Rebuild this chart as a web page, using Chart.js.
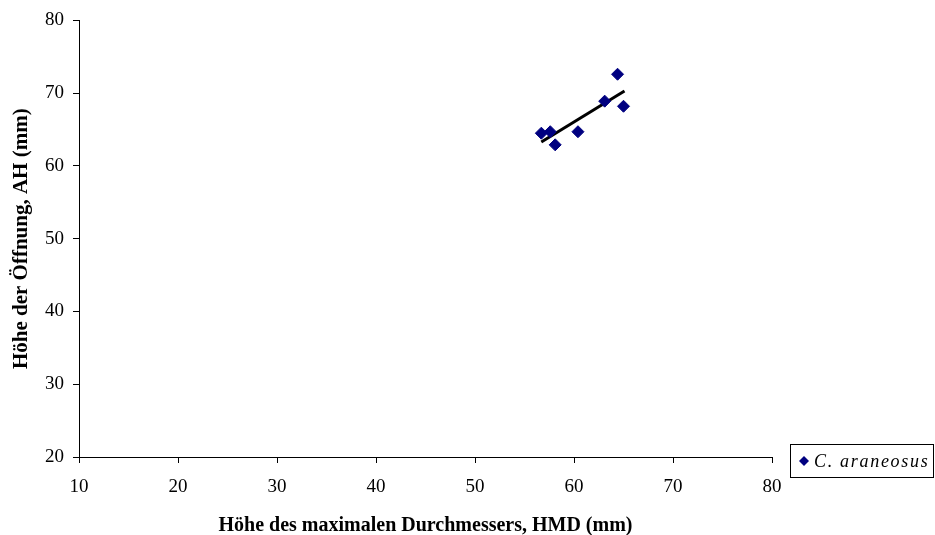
<!DOCTYPE html>
<html>
<head>
<meta charset="utf-8">
<script src="https://cdn.jsdelivr.net/npm/chart.js@4"></script>
<style>
  html, body { margin: 0; padding: 0; background: #fff; }
  #wrap { width: 935px; height: 535px; }
</style>
</head>
<body>
<div id="wrap"><canvas id="myChart" width="935" height="535"></canvas></div>
<script>
const hmd = [56.7, 57.6, 58.1, 60.4, 63.1, 64.4, 65.0];
const ah = [64.5, 64.7, 62.9, 64.7, 68.9, 72.6, 68.2];
const trendX = [56.7, 65.1];
const trendY = [63.3, 70.3];
const seriesName = "C. araneosus";
const xTitle = "Höhe des maximalen Durchmessers, HMD (mm)";
const yTitle = "Höhe der Öffnung, AH (mm)";

const serif = "'Liberation Serif', 'Times New Roman', serif";

// legend box drawn by hand (outside plot, bottom right)
const boxLegend = {
  id: "boxLegend",
  afterDraw(chart) {
    const ctx = chart.ctx;
    const ds = chart.data.datasets[0];
    ctx.save();
    ctx.strokeStyle = "#000";
    ctx.lineWidth = 1;
    ctx.strokeRect(790.5, 444.5, 143, 33);
    ctx.fillStyle = ds.backgroundColor;
    ctx.beginPath();
    ctx.moveTo(799, 461);
    ctx.lineTo(804, 456);
    ctx.lineTo(809, 461);
    ctx.lineTo(804, 466);
    ctx.closePath();
    ctx.fill();
    ctx.fillStyle = "#000";
    ctx.font = "italic 18px " + serif;
    ctx.letterSpacing = "1.7px";
    ctx.textBaseline = "middle";
    ctx.fillText(ds.label, 814, 462);
    ctx.restore();
  },
};

const ctx = document.getElementById("myChart").getContext("2d");
new Chart(ctx, {
  type: "scatter",
  data: {
    datasets: [
      {
        label: seriesName,
        data: hmd.map((x, i) => ({ x: x, y: ah[i] })),
        backgroundColor: "#000080",
        borderColor: "#000080",
        pointStyle: "rectRot",
        pointRadius: 6,
        pointHoverRadius: 6,
      },
      {
        type: "line",
        label: "trend",
        data: trendX.map((x, i) => ({ x: x, y: trendY[i] })),
        borderColor: "#000",
        borderWidth: 3,
        pointRadius: 0,
        fill: false,
      },
    ],
  },
  options: {
    responsive: false,
    animation: false,
    layout: { padding: { left: 0, right: 163, top: 20, bottom: 0 } },
    plugins: {
      legend: { display: false },
      tooltip: { enabled: false },
    },
    scales: {
      x: {
        type: "linear",
        min: 10,
        max: 80,
        ticks: {
          stepSize: 10,
          color: "#000",
          padding: 13,
          font: { family: serif, size: 19 },
        },
        grid: { drawOnChartArea: false, drawTicks: true, tickLength: 6, color: "#000" },
        border: { color: "#000" },
        title: {
          display: true,
          text: xTitle,
          color: "#000",
          padding: { top: 0, bottom: 0 },
          font: { family: serif, size: 20, weight: "bold", lineHeight: 0.9 },
        },
        afterFit(scale) {
          scale.height = 78;
        },
      },
      y: {
        min: 20,
        max: 80,
        ticks: {
          stepSize: 10,
          color: "#000",
          padding: 9,
          font: { family: serif, size: 19 },
        },
        grid: { drawOnChartArea: false, drawTicks: true, tickLength: 6, color: "#000" },
        border: { color: "#000" },
        title: {
          display: true,
          text: yTitle,
          color: "#000",
          padding: { top: 9, bottom: 0 },
          font: { family: serif, size: 21, weight: "bold" },
        },
        afterFit(scale) {
          scale.width = 79;
        },
      },
    },
  },
  plugins: [boxLegend],
});
</script>
</body>
</html>
